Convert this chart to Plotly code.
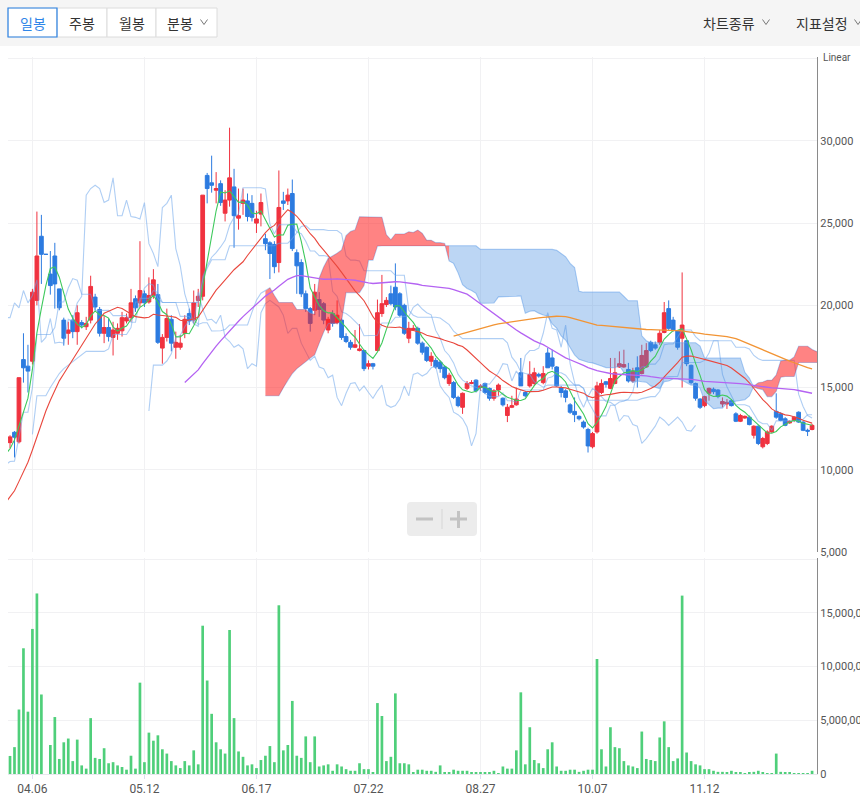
import numpy as np
import pandas as pd
import plotly.graph_objects as go

# ---------------- data ----------------
tick_labels = ["04.06", "05.12", "06.17", "07.22", "08.27", "10.07", "11.12"]
tick_index = [5, 30, 55, 80, 105, 130, 155]

open_ = [11650, 12280, 11700, 16700, 16300, 16600, 20300, 24200, 23100, 21900,
         23000, 21000, 19100, 18300, 19100, 18400, 18950, 18700, 19100, 20500,
         19750, 18300, 18650, 18050, 18300, 18450, 19050, 19250, 20400, 20150,
         20700, 20200, 20600, 20650, 17400, 18050, 19150, 17450, 17450, 18300,
         19500, 19100, 20300, 20550, 27900, 27450, 27000, 27400, 25600, 26400,
         27200, 25300, 26200, 26350, 26200, 25000, 25550, 24050, 23800, 23700,
         22600, 26350, 26350, 26800, 23200, 22600, 20700, 19800, 19700, 20350,
         20100, 18500, 19500, 18950, 19100, 18100, 17750, 17450, 17250, 17250,
         16300, 16450, 17250, 19500, 20050, 20700, 21100, 20700, 20000, 18000,
         18500, 18600, 17700, 17450, 16600, 16650, 16550, 16250, 15250, 15300,
         14400, 13800, 14950, 15250, 15450, 15000, 15250, 14950, 14350, 14850,
         14350, 13300, 13800, 13950, 15900, 14700, 15100, 15250, 15800, 15300,
         17100, 16800, 16250, 15000, 14800, 13950, 13550, 13250, 12900, 12450,
         11400, 12300, 14700, 15350, 14950, 15250, 16250, 16250, 16100, 15400,
         16200, 15850, 16250, 17750, 17600, 17750, 18350, 19800, 19100, 18450,
         18000, 17850, 16350, 15250, 14300, 13900, 14650, 14900, 14850, 14000,
         14000, 14200, 13400, 12950, 13150, 13200, 12100, 12650, 11400, 11600,
         12300, 13550, 13400, 13100, 12850, 13000, 13500, 12900, 12400, 12450]
high = [12100, 12350, 15600, 18300, 17600, 21000, 25700, 25500, 23100, 23300,
        23800, 21000, 19250, 19000, 19400, 20000, 19100, 19300, 21800, 20700,
        19900, 19350, 19200, 19000, 18900, 19600, 19500, 21000, 20600, 23900,
        20900, 21700, 22200, 21300, 18250, 19800, 19400, 18400, 18200, 19400,
        19800, 20900, 21000, 26700, 28050, 29100, 28100, 27600, 27000, 30800,
        28300, 27100, 27100, 26800, 26700, 25750, 26800, 24350, 23900, 23900,
        28200, 26900, 27100, 27650, 23400, 22800, 20900, 19900, 21300, 20800,
        20200, 19300, 19700, 20300, 19200, 18300, 17900, 18500, 18850, 17300,
        16650, 16500, 20350, 21850, 20500, 21200, 22550, 20800, 20100, 19000,
        18800, 18700, 17800, 17500, 17150, 16800, 16650, 16350, 15900, 15400,
        14500, 14700, 15400, 15450, 15500, 15200, 15300, 15000, 14900, 15250,
        14400, 14000, 14500, 15000, 16800, 14800, 16600, 16200, 15900, 16300,
        17400, 17300, 16300, 15100, 14900, 14050, 14400, 13300, 13000, 12550,
        12300, 15350, 15500, 15400, 16800, 16800, 17200, 17300, 16500, 16200,
        16900, 17600, 17700, 17850, 17800, 18500, 20200, 20300, 19300, 18500,
        22000, 17900, 16400, 15300, 14350, 14500, 15000, 15000, 14900, 14400,
        14300, 14300, 13500, 13400, 13300, 13300, 12700, 12700, 12000, 12400,
        12700, 14650, 13500, 13200, 13000, 13250, 13550, 12950, 12500, 12800]
low = [11300, 10750, 11600, 15300, 14700, 16400, 20000, 21300, 23100, 20650,
       19800, 19700, 17550, 17600, 18000, 17600, 18600, 18500, 18900, 19700,
       18100, 17700, 17800, 16950, 17900, 18100, 18900, 19000, 19600, 19900,
       19900, 20100, 20400, 17650, 16450, 17800, 17200, 16750, 17300, 18000,
       18800, 18900, 19900, 20300, 26200, 26850, 26200, 26050, 25100, 26000,
       23500, 24600, 25500, 25100, 25100, 24400, 24800, 23350, 21600, 21950,
       22000, 25800, 26100, 23300, 20700, 20500, 19600, 18400, 19400, 19300,
       18850, 18300, 18700, 18850, 17900, 17700, 17300, 17400, 17200, 16000,
       16100, 16100, 17200, 19300, 19900, 20000, 19700, 19300, 18200, 17700,
       18450, 17600, 17000, 16550, 16300, 16150, 15900, 15500, 15100, 14300,
       13800, 13400, 14850, 15200, 14700, 14800, 14600, 14200, 14200, 14500,
       13850, 12900, 13750, 13900, 15100, 14400, 15000, 15100, 15600, 15200,
       16200, 16100, 15050, 14400, 14100, 13400, 12900, 13000, 12500, 11050,
       11300, 12200, 14600, 15000, 14900, 15200, 16200, 16200, 15300, 15300,
       15000, 15800, 16200, 17150, 17300, 17600, 18300, 18500, 18400, 17300,
       15000, 16300, 15200, 14200, 13700, 13800, 14200, 14600, 14350, 13800,
       13700, 13850, 12900, 12900, 13100, 12700, 11900, 11500, 11300, 11500,
       12250, 13100, 12950, 12650, 12800, 12900, 12850, 12350, 12050, 12400]
close = [12000, 11980, 15600, 16200, 16000, 20800, 23000, 23100, 23100, 21200,
         21300, 19850, 18000, 18500, 18400, 19550, 18800, 18900, 21150, 19900,
         18300, 18650, 18100, 18500, 18600, 19250, 19250, 20150, 19850, 20900,
         20150, 20600, 21550, 17750, 18050, 19200, 17700, 17750, 17700, 19150,
         19050, 20150, 20550, 26700, 27100, 27300, 27100, 26250, 26400, 27750,
         25450, 25450, 26400, 25400, 25350, 25250, 26250, 23750, 23150, 22350,
         25950, 26200, 26700, 23450, 22400, 20700, 19800, 18900, 20800, 19750,
         19100, 19150, 18900, 19400, 18050, 17800, 17450, 17600, 17350, 16150,
         16450, 16300, 19550, 20100, 20300, 20100, 19900, 19400, 18300, 18600,
         18600, 17700, 17150, 16650, 16900, 16250, 16150, 15600, 15750, 14400,
         13900, 14650, 15250, 15300, 14800, 15100, 14700, 14350, 14800, 15150,
         13950, 13800, 13900, 14300, 15100, 14500, 15800, 15900, 15700, 15850,
         16200, 16300, 15100, 14700, 14400, 13500, 13350, 13100, 12600, 11450,
         12200, 15100, 15250, 15200, 15550, 15900, 16450, 16400, 15400, 16000,
         15600, 16950, 17250, 17250, 17400, 18300, 19550, 18600, 18500, 17450,
         18800, 16450, 15300, 14350, 13800, 14450, 14950, 14750, 14450, 14150,
         14100, 13900, 12950, 13300, 13250, 12750, 12650, 11600, 11900, 12300,
         12650, 13200, 13000, 12700, 12950, 13200, 12900, 12400, 12350, 12700]
volume = [1.68, 2.5, 6.0, 11.7, 5.8, 13.5, 16.8, 7.4, 0.0, 2.7,
          5.3, 1.4, 2.95, 3.3, 1.2, 3.2, 0.8, 0.5, 5.2, 1.5,
          1.4, 2.4, 1.0, 1.1, 0.8, 0.65, 0.4, 1.7, 0.5, 8.5,
          1.1, 3.85, 3.1, 3.6, 2.3, 1.9, 1.2, 0.8, 0.55, 1.2,
          0.8, 2.2, 0.9, 13.8, 8.7, 5.6, 2.95, 2.3, 1.9, 13.4,
          5.2, 2.1, 1.6, 0.8, 0.9, 0.55, 1.3, 1.7, 2.6, 1.1,
          15.7, 2.2, 2.7, 6.8, 1.7, 1.5, 3.5, 1.1, 3.5, 0.7,
          0.8, 0.9, 0.3, 0.9, 0.7, 0.45, 0.3, 0.3, 1.0, 0.45,
          0.45, 0.15, 6.6, 5.4, 1.2, 1.6, 7.5, 1.0, 1.0, 0.9,
          0.15, 0.4, 0.4, 0.3, 0.3, 0.2, 0.8, 0.15, 0.15, 0.4,
          0.3, 0.3, 0.3, 0.1, 0.1, 0.1, 0.1, 0.1, 0.3, 0.05,
          0.7, 0.5, 0.5, 2.2, 7.6, 0.9, 4.35, 1.3, 1.0, 0.55,
          2.3, 2.95, 0.7, 0.3, 0.3, 0.4, 0.4, 0.2, 0.3, 0.4,
          0.4, 10.7, 2.3, 0.7, 4.35, 2.5, 2.4, 1.2, 0.8, 0.7,
          0.55, 3.95, 1.4, 1.3, 1.2, 3.4, 4.9, 2.5, 1.2, 1.45,
          16.6, 2.0, 1.2, 0.9, 0.8, 0.45, 0.45, 0.3, 0.2, 0.2,
          0.15, 0.3, 0.15, 0.15, 0.05, 0.15, 0.2, 0.3, 0.15, 0.05,
          0.05, 1.9, 0.2, 0.15, 0.1, 0.05, 0.05, 0.05, 0.05, 0.3]  # millions

# 20 sessions before the visible window (estimated; needed by the indicators)
prior_close = [4700, 4600, 4200, 4000, 5000, 5900, 6700, 7300, 7700, 8100,
               8600, 9000, 9400, 9800, 10100, 10300, 9300, 11600, 11700, 11800]
prior_high = [4900, 4900, 4400, 4300, 5200, 6200, 7000, 7600, 8000, 8400,
              9000, 9400, 9800, 10200, 10500, 10700, 10300, 11900, 12200, 12300]
prior_low = [4400, 4100, 3500, 3300, 4300, 5200, 6000, 6600, 7000, 7400,
             7900, 8300, 8700, 9100, 9400, 9600, 8700, 9000, 11000, 11200]

# ---------------- indicators ----------------
n = len(close)
npre = len(prior_close)
x_vis = np.arange(n)
C = pd.Series(prior_close + close, dtype=float)
H = pd.Series(prior_high + high, dtype=float)
L = pd.Series(prior_low + low, dtype=float)
pos = np.arange(len(C)) - npre  # visible index of each session

ma = {w: C.rolling(w).mean() for w in (5, 20, 60, 120)}
tenkan = (H.rolling(9).max() + L.rolling(9).min()) / 2
kijun = (H.rolling(26).max() + L.rolling(26).min()) / 2
spanA = (tenkan + kijun) / 2
spanB = (H.rolling(52).max() + L.rolling(52).min()) / 2
span_x = pos + 26
chikou_x = pos - 26

RED = "#f0323f"
BLUE = "#2c7be0"
LB = "rgba(110,165,235,0.55)"

fig = go.Figure()

# ichimoku thin lines
for xs, ys in [(pos, tenkan), (pos, kijun), (chikou_x, C), (span_x, spanA), (span_x, spanB)]:
    fig.add_trace(go.Scatter(x=xs, y=ys, mode="lines", line=dict(color=LB, width=1.1),
                             hoverinfo="skip", showlegend=False))

# candles
fig.add_trace(go.Candlestick(
    x=x_vis, open=open_, high=high, low=low, close=close,
    increasing=dict(line=dict(color=RED, width=1), fillcolor=RED),
    decreasing=dict(line=dict(color=BLUE, width=1), fillcolor=BLUE),
    whiskerwidth=0, showlegend=False, hoverinfo="skip"))

# cloud
A = spanA.values
B = spanB.values
valid = ~(np.isnan(A) | np.isnan(B))
idxs = np.where(valid)[0]
runs = []
cur = [idxs[0]]
for k in idxs[1:]:
    if (A[k] >= B[k]) == (A[cur[-1]] >= B[cur[-1]]):
        cur.append(k)
    else:
        cur.append(k)  # overlap one point to close the gap
        runs.append(cur)
        cur = [k]
runs.append(cur)
for r in runs:
    r = np.array(r)
    up = A[r[0]] >= B[r[0]] if len(r) < 2 else (A[r[:-1]] >= B[r[:-1]]).mean() >= 0.5
    xs = np.concatenate([span_x[r], span_x[r][::-1]])
    ys = np.concatenate([A[r], B[r][::-1]])
    fig.add_trace(go.Scatter(
        x=xs, y=ys, mode="lines", fill="toself", line=dict(width=0),
        fillcolor="rgba(255,30,30,0.55)" if up else "rgba(70,140,225,0.36)",
        hoverinfo="skip", showlegend=False))

# moving averages
for w, col, lw in [(5, "#3ec95c", 1.1), (20, "#e9473d", 1.1), (60, "#b463f2", 1.3), (120, "#f29434", 1.3)]:
    fig.add_trace(go.Scatter(x=pos, y=ma[w], mode="lines", line=dict(color=col, width=lw),
                             hoverinfo="skip", showlegend=False))

# volume
fig.add_trace(go.Bar(x=x_vis, y=[v * 1e6 for v in volume], marker=dict(color="#4fcf7a", line=dict(width=0)),
                     width=0.6, xaxis="x2", yaxis="y2", showlegend=False, hoverinfo="skip"))

# ---------------- layout ----------------
W, Hh = 860, 801
ML, MR, MT, MB = 8, 43, 57, 27
PW, PH = W - ML - MR, Hh - MT - MB


def px(xp):
    return (xp - ML) / PW


def py(yp):
    return (Hh - MB - yp) / PH


xr = [-0.45, 180.1]
grid = "#f1f1f3"
font_num = "Roboto, Noto Sans, sans-serif"
fig.update_layout(
    width=W, height=Hh, margin=dict(l=ML, r=MR, t=MT, b=MB, autoexpand=False),
    paper_bgcolor="white", plot_bgcolor="white", showlegend=False,
    boxgap=0.12, boxgroupgap=0.05,
    font=dict(family=font_num, size=11, color="#555"),
    xaxis=dict(domain=[0, 1], range=xr, rangeslider=dict(visible=False), tickvals=tick_index,
               showticklabels=False, showgrid=True, gridcolor=grid, zeroline=False,
               anchor="y", matches="x2", automargin=False),
    xaxis2=dict(domain=[0, 1], range=xr, tickvals=tick_index, ticktext=tick_labels,
                showgrid=True, gridcolor=grid, zeroline=False, anchor="y2", automargin=False,
                ticks="outside", ticklen=4, tickcolor="#dde",
                tickfont=dict(size=12, color="#555"), showline=True, linecolor="#e8e8ee"),
    yaxis=dict(domain=[py(552), 1], range=[5000, 35100], side="right", automargin=False,
               tickvals=[5000, 10000, 15000, 20000, 25000, 30000, 35000],
               ticktext=["5,000", "10,000", "15,000", "20,000", "25,000", "30,000", ""],
               showgrid=True, gridcolor=grid, zeroline=False, showline=True, linecolor="#8a8a8a",
               linewidth=1.2, ticks="", tickfont=dict(size=11, color="#555")),
    yaxis2=dict(domain=[0, py(558)], range=[0, 20.1e6], side="right", automargin=False,
                tickvals=[0, 5e6, 10e6, 15e6, 20e6],
                ticktext=["0", "5,000,000", "10,000,000", "15,000,000", ""],
                showgrid=True, gridcolor=grid, zeroline=False, showline=True, linecolor="#8a8a8a",
                linewidth=1.2, ticks="", tickfont=dict(size=11, color="#555")),
)

shapes = []
ann = []
# toolbar background
shapes.append(dict(type="rect", xref="paper", yref="paper", x0=px(0), x1=px(860), y0=py(46), y1=py(0),
                   fillcolor="#f5f5f5", line=dict(width=0), layer="below"))
btns = [("일봉", 8, 57, True), ("주봉", 57, 107, False), ("월봉", 107, 156, False), ("분봉", 156, 217, False)]
for label, a, b, sel in btns:
    shapes.append(dict(type="rect", xref="paper", yref="paper", x0=px(a), x1=px(b), y0=py(37), y1=py(8),
                       fillcolor="white", line=dict(color="#dcdcdc", width=1)))
for label, a, b, sel in btns:
    if sel:
        shapes.append(dict(type="rect", xref="paper", yref="paper", x0=px(a), x1=px(b), y0=py(37), y1=py(8),
                           fillcolor="rgba(0,0,0,0)", line=dict(color="#2f86e8", width=1.2)))
    cx = (a + b) / 2 if label != "분봉" else 180
    ann.append(dict(text=label, xref="paper", yref="paper", x=px(cx), y=py(22.5), showarrow=False,
                    font=dict(family="Noto Sans CJK KR", size=14, color="#2f86e8" if sel else "#333"),
                    xanchor="center", yanchor="middle"))


def chevron(cx, cy, w=3.5, h=2.5):
    return dict(type="path", xref="paper", yref="paper",
                path=f"M {px(cx - w)} {py(cy - h)} L {px(cx)} {py(cy + h)} L {px(cx + w)} {py(cy - h)}",
                line=dict(color="#777", width=1))


shapes.append(chevron(204, 22))
ann.append(dict(text="차트종류", xref="paper", yref="paper", x=px(729), y=py(22.5), showarrow=False,
                font=dict(family="Noto Sans CJK KR", size=14, color="#333"), xanchor="center", yanchor="middle"))
shapes.append(chevron(766, 22))
ann.append(dict(text="지표설정", xref="paper", yref="paper", x=px(822), y=py(22.5), showarrow=False,
                font=dict(family="Noto Sans CJK KR", size=14, color="#333"), xanchor="center", yanchor="middle"))
shapes.append(chevron(858, 22))
ann.append(dict(text="Linear", xref="paper", yref="paper", x=px(821), y=py(58), showarrow=False,
                font=dict(family=font_num, size=10, color="#555"), xanchor="left", yanchor="middle"))

# zoom widget
x0z, x1z, y0z, y1z, rz = 407, 477, 502, 536, 4
path = (f"M {px(x0z + rz)} {py(y0z)} L {px(x1z - rz)} {py(y0z)} Q {px(x1z)} {py(y0z)} {px(x1z)} {py(y0z + rz)} "
        f"L {px(x1z)} {py(y1z - rz)} Q {px(x1z)} {py(y1z)} {px(x1z - rz)} {py(y1z)} "
        f"L {px(x0z + rz)} {py(y1z)} Q {px(x0z)} {py(y1z)} {px(x0z)} {py(y1z - rz)} "
        f"L {px(x0z)} {py(y0z + rz)} Q {px(x0z)} {py(y0z)} {px(x0z + rz)} {py(y0z)} Z")
shapes.append(dict(type="path", xref="paper", yref="paper", path=path, fillcolor="#ececec",
                   line=dict(width=0)))
shapes.append(dict(type="line", xref="paper", yref="paper", x0=px(442), x1=px(442), y0=py(509), y1=py(529),
                   line=dict(color="#d6d6d6", width=1)))
shapes.append(dict(type="line", xref="paper", yref="paper", x0=px(416), x1=px(433), y0=py(519), y1=py(519),
                   line=dict(color="#c3c3c3", width=3)))
shapes.append(dict(type="line", xref="paper", yref="paper", x0=px(450), x1=px(467), y0=py(519), y1=py(519),
                   line=dict(color="#c3c3c3", width=3)))
shapes.append(dict(type="line", xref="paper", yref="paper", x0=px(458.5), x1=px(458.5), y0=py(511), y1=py(528),
                   line=dict(color="#c3c3c3", width=3)))

fig.update_layout(shapes=shapes, annotations=ann)
fig.write_html("out.html", config={"displayModeBar": False},
               post_script="document.body.style.margin='0px';document.body.style.overflow='hidden';")
